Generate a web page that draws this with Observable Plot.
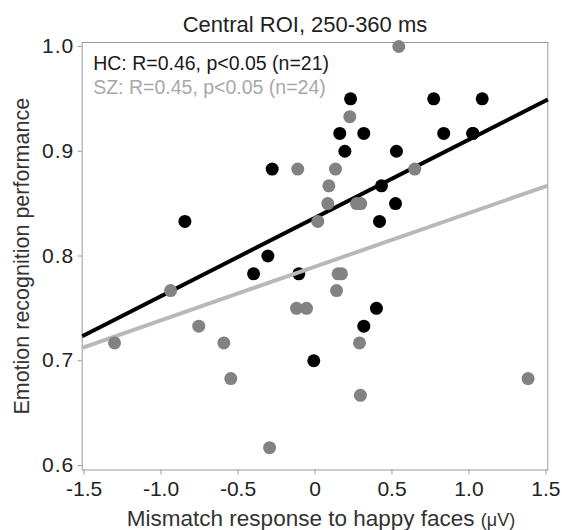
<!DOCTYPE html>
<html>
<head>
<meta charset="utf-8">
<script src="https://cdn.jsdelivr.net/npm/d3@7"></script>
<script src="https://cdn.jsdelivr.net/npm/@observablehq/plot@0.6"></script>
<style>
  html, body { margin: 0; padding: 0; background: #fff; }
  #chart svg { display: block; }
</style>
</head>
<body>
<div id="chart"></div>
<script>
// ---- Data ----
const title = "Central ROI, 250-360 ms";
const xLabelMain = "Mismatch response to happy faces ";
const xLabelUnit = "(\u03bcV)";
const yLabel = "Emotion recognition performance";
const legendLines = ["HC: R=0.46, p<0.05 (n=21)", "SZ: R=0.45, p<0.05 (n=24)"];

// Healthy controls (HC)
const hcX = [-0.845, -0.278, -0.306, -0.399, -0.105, -0.008, 0.317, 0.399, 0.419, 0.432, 0.523,
             0.194, 0.161, 0.317, 0.231, 0.529, 0.771, 0.836, 1.086, 1.025, 1.025];
const hcY = [0.833, 0.883, 0.800, 0.783, 0.783, 0.700, 0.733, 0.750, 0.833, 0.867, 0.850,
             0.900, 0.917, 0.917, 0.950, 0.900, 0.950, 0.917, 0.950, 0.917, 0.917];

// Schizophrenia (SZ)
const szX = [0.544, 0.226, -0.112, 0.133, 0.648, 0.090, 0.083, 0.270, 0.297, 0.018, -0.938, 0.150,
             0.172, 0.140, -0.120, -0.055, -0.755, -1.302, -0.592, 0.289, -0.547, 0.295, -0.295, 1.384];
const szY = [1.000, 0.933, 0.883, 0.883, 0.883, 0.867, 0.850, 0.850, 0.850, 0.833, 0.767, 0.783,
             0.783, 0.767, 0.750, 0.750, 0.733, 0.717, 0.717, 0.717, 0.683, 0.667, 0.617, 0.683];

// Regression lines [intercept, slope]
const hcFit = [0.8364, 0.0747];
const szFit = [0.7898, 0.0512];

// Axis ticks
const xTicks = [-1.5, -1.0, -0.5, 0, 0.5, 1.0, 1.5];
const yTicks = [0.6, 0.7, 0.8, 0.9, 1.0];
const xDomain = [-1.512, 1.512];
const yDomain = [0.5957, 1.0038];

// ---- Build tables ----
const hc = hcX.map((x, i) => ({x, y: hcY[i]}));
const sz = szX.map((x, i) => ({x, y: szY[i]}));
const fitLine = (f) => xDomain.map(x => ({x, y: f[0] + f[1] * x}));

const font = "'Liberation Sans', Arial, Helvetica, sans-serif";

const chart = Plot.plot({
  width: 562,
  height: 530,
  marginLeft: 81.7,
  marginRight: 14.7,
  marginTop: 42,
  marginBottom: 60.5,
  style: {fontFamily: font, background: "#fff", color: "#222"},
  x: {domain: xDomain},
  y: {domain: yDomain},
  marks: [
    Plot.frame({stroke: "#9a9a9a", strokeWidth: 1}),
    Plot.axisX({ticks: xTicks, tickFormat: d => d === 0 ? "0" : d.toFixed(1), tickSize: 5,
      tickPadding: 6, fontSize: 21, label: null, stroke: "#9a9a9a", fill: "#222"}),
    Plot.axisY({ticks: yTicks, tickFormat: d => d.toFixed(1), tickSize: 4,
      tickPadding: 4, fontSize: 21, label: null, stroke: "#9a9a9a", fill: "#222"}),
    Plot.line(fitLine(hcFit), {x: "x", y: "y", stroke: "#000", strokeWidth: 4, strokeLinecap: "butt"}),
    Plot.dot(hc, {x: "x", y: "y", r: 6.5, fill: "#000", stroke: "none"}),
    Plot.line(fitLine(szFit), {x: "x", y: "y", stroke: "#b8b8b8", strokeWidth: 4, strokeLinecap: "butt"}),
    Plot.dot(sz, {x: "x", y: "y", r: 6.5, fill: "#828282", stroke: "none"}),
    Plot.text([legendLines[0]], {frameAnchor: "top-left", dx: 11, dy: 21.5, text: d => d,
      textAnchor: "start", lineAnchor: "middle", fontSize: 19.5, fill: "#1a1a1a"}),
    Plot.text([legendLines[1]], {frameAnchor: "top-left", dx: 11, dy: 45, text: d => d,
      textAnchor: "start", lineAnchor: "middle", fontSize: 19.5, fill: "#a8a8a8"}),
    Plot.text([title], {frameAnchor: "top", dx: -10, dy: -18, text: d => d, lineAnchor: "middle",
      fontSize: 22, fill: "#222"}),
    Plot.text([xLabelMain + xLabelUnit], {frameAnchor: "bottom", dx: 6, dy: 48.5, text: d => d,
      lineAnchor: "middle", textAnchor: "middle", fontSize: 22.5, fill: "#333"}),
    Plot.text([yLabel], {frameAnchor: "left", dx: -59.7, rotate: -90, text: d => d,
      lineAnchor: "middle", textAnchor: "middle", fontSize: 21.5, fill: "#333"})
  ]
});
document.getElementById("chart").appendChild(chart);

// Slight tracking on tick labels, and a smaller unit in the x label (as in the reference)
d3.select(chart).selectAll('g[aria-label="y-axis tick label"] text').style("letter-spacing", "1px");
d3.select(chart).selectAll("text").each(function () {
  if (this.textContent === xLabelMain + xLabelUnit) {
    const t = d3.select(this);
    t.text(null);
    t.append("tspan").text(xLabelMain);
    t.append("tspan").attr("font-size", 18).text(xLabelUnit);
  }
});
</script>
</body>
</html>
